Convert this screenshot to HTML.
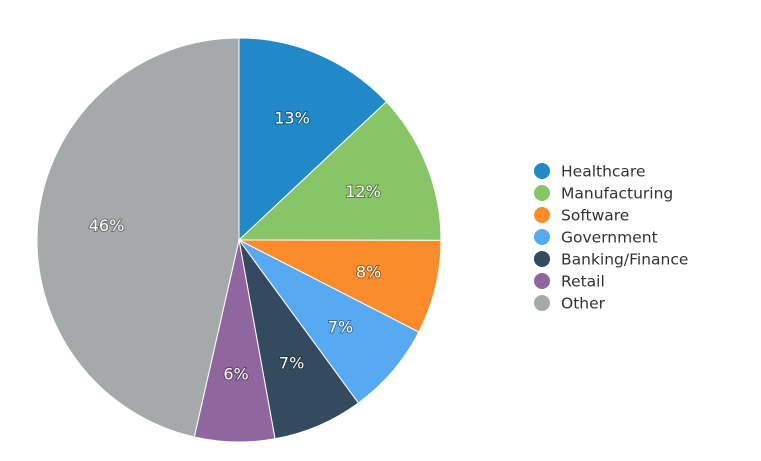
<!DOCTYPE html>
<html><head><meta charset="utf-8"><style>
body{margin:0;background:#fff;}
svg{display:block;font-family:"DejaVu Sans","Liberation Sans",sans-serif;}
</style></head><body>
<svg id="chart" width="761" height="461"></svg>
<script>
const categories=["Healthcare","Manufacturing","Software","Government","Banking/Finance","Retail","Other"];
const values=[13,12,7.5,7.4,7.2,6.4,46.4];
const labels=["13%","12%","8%","7%","7%","6%","46%"];
const colors=["#2189c7","#88c566","#fb8b2b","#57aaf2","#344a5f","#90669e","#a6a9a9"];
const NS="http://www.w3.org/2000/svg";
const svg=document.getElementById("chart");
const cx=239,cy=240,r=202;
const total=values.reduce((a,b)=>a+b,0);
function pt(a,rr){return [cx+rr*Math.sin(a),cy-rr*Math.cos(a)];}
let a0=0;
values.forEach((v,i)=>{
  const a1=a0+v/total*2*Math.PI;
  const p0=pt(a0,r),p1=pt(a1,r);
  const large=(a1-a0)>Math.PI?1:0;
  const path=document.createElementNS(NS,"path");
  path.setAttribute("d",`M${cx},${cy}L${p0[0]},${p0[1]}A${r},${r} 0 ${large} 1 ${p1[0]},${p1[1]}Z`);
  path.setAttribute("fill",colors[i]);
  path.setAttribute("stroke","#fff");
  path.setAttribute("stroke-width","1");
  
  
  svg.appendChild(path);
  const am=(a0+a1)/2,lp=pt(am,r*0.66);
  const t=document.createElementNS(NS,"text");
  t.setAttribute("x",lp[0]);t.setAttribute("y",lp[1]+6);
  t.setAttribute("text-anchor","middle");t.setAttribute("font-size","16");
  t.setAttribute("fill","#fff");
  t.setAttribute("style","paint-order:stroke;stroke:rgba(0,0,0,0.35);stroke-width:2px;");
  t.textContent=labels[i];
  
  
  svg.appendChild(t);
  a0=a1;
});
categories.forEach((c,i)=>{
  const y=171+i*22;
  const g=document.createElementNS(NS,"g");
  
  
  const ci=document.createElementNS(NS,"circle");
  ci.setAttribute("cx",542);ci.setAttribute("cy",y);ci.setAttribute("r",8);ci.setAttribute("fill",colors[i]);
  
  
  const t=document.createElementNS(NS,"text");
  t.setAttribute("x",561);t.setAttribute("y",y+5.5);t.setAttribute("font-size","15.5");t.setAttribute("fill","#333");
  t.textContent=c;
  
  
  g.appendChild(ci);g.appendChild(t);svg.appendChild(g);
});
</script>
</body></html>
